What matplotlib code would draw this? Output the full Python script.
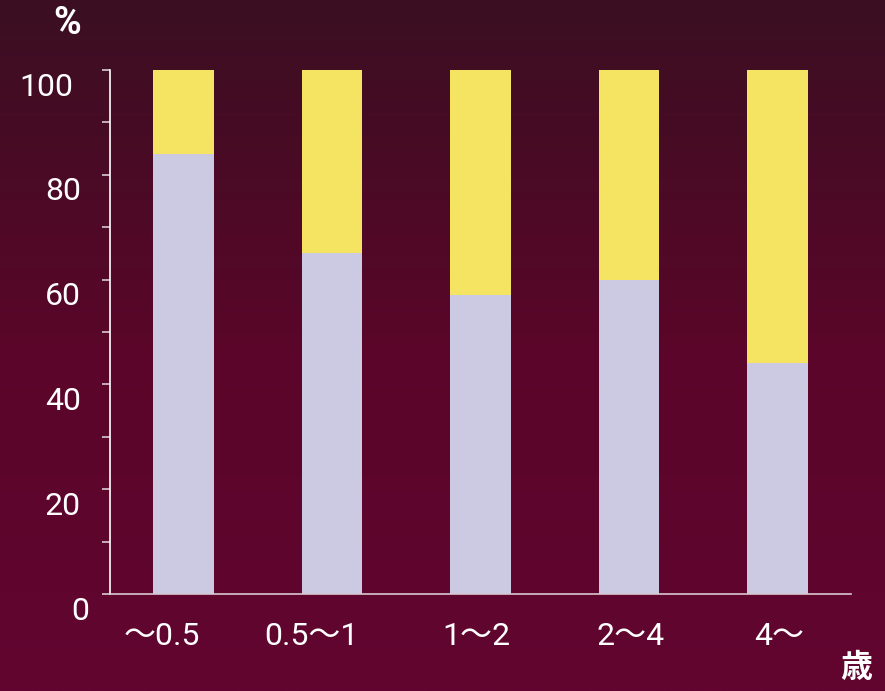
import numpy as np
import matplotlib
matplotlib.use("Agg")
import matplotlib.pyplot as plt
import matplotlib.transforms as mtransforms
from matplotlib.colors import LinearSegmentedColormap

plt.rcParams['font.family'] = ['Roboto', 'Noto Sans CJK JP', 'DejaVu Sans']

categories = ["〜0.5", "0.5〜1", "1〜2", "2〜4", "4〜"]
lower_vals = [84, 65, 57, 60, 44]
upper_vals = [100 - v for v in lower_vals]
ytick_vals = [0, 20, 40, 60, 80, 100]
ytick_labels = ["0", "20", "40", "60", "80", "100"]

W, H = 885, 691
fig = plt.figure(figsize=(W / 100, H / 100), dpi=100)

# gradient background
bg = fig.add_axes([0, 0, 1, 1], zorder=-10)
cmap = LinearSegmentedColormap.from_list("bg", ["#3b0f22", "#5a0629", "#620530"])
grad = np.linspace(0, 1, 256).reshape(-1, 1)
bg.imshow(grad, aspect="auto", cmap=cmap, extent=[0, 1, 0, 1], origin="upper")
bg.set_axis_off()

ax = fig.add_axes([110 / W, 1 - 594 / H, (851 - 110) / W, (594 - 70) / H])
ax.patch.set_alpha(0)

x = np.arange(len(categories))
ax.bar(x, lower_vals, width=0.41, color="#cccae3", zorder=2)
ax.bar(x, upper_vals, width=0.41, bottom=lower_vals, color="#f5e462", zorder=2)

ax.set_xlim(-0.495, 4.495)
ax.set_ylim(0, 100)

for s in ["top", "right"]:
    ax.spines[s].set_visible(False)
ax.spines["left"].set_color("white")
ax.spines["left"].set_linewidth(1.2)
ax.spines["bottom"].set_color("#d8c8d0")
ax.spines["bottom"].set_linewidth(1.2)

ax.set_yticks(ytick_vals)
ax.set_yticklabels(ytick_labels, fontsize=23, color="white")
ax.set_yticks(np.arange(10, 100, 20), minor=True)
ax.tick_params(axis="y", which="both", direction="out", length=6, width=1.2,
               color="#d9c9d3", pad=22)
y_nudge = [18, 10, 10, 10, 10, 2]
for lab, dx in zip(ax.get_yticklabels(), y_nudge):
    lab.set_transform(lab.get_transform() +
                      mtransforms.ScaledTranslation(dx / 100, -14 / 100, fig.dpi_scale_trans))

ax.set_xticks(x)
ax.set_xticklabels(categories, fontsize=23, color="white")
ax.tick_params(axis="x", length=0, pad=20)
# horizontal nudges (pixels) to match the reference label placement
x_nudge = [-22, -21, -4, 2, 2]
for lab, dx in zip(ax.get_xticklabels(), x_nudge):
    lab.set_transform(lab.get_transform() +
                      mtransforms.ScaledTranslation(dx / 100, 0, fig.dpi_scale_trans))

fig.text(67 / W, 1 - 23 / H, "%", fontsize=27, fontweight="bold", color="white",
         ha="center", va="center")
fig.text(856 / W, 1 - 668 / H, "歳", fontsize=23, fontweight="bold", color="white",
         ha="center", va="center")

fig.savefig("out.png", dpi=100)
